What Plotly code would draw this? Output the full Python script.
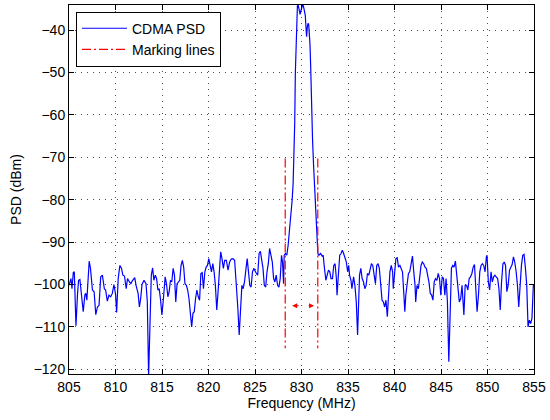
import plotly.graph_objects as go

freq_mhz = [
    805.00, 805.11, 805.21, 805.32, 805.46, 805.57, 805.75, 805.92, 806.03, 806.17,
    806.35, 806.53, 806.71, 806.81, 806.92, 807.06, 807.17, 807.31, 807.52, 807.70,
    807.88, 808.06, 808.23, 808.41, 808.59, 808.80, 808.94, 809.12, 809.30, 809.48,
    809.66, 809.83, 810.01, 810.12, 810.29, 810.47, 810.65, 810.79, 810.97, 811.15,
    811.29, 811.50, 811.65, 811.79, 811.97, 812.07, 812.21, 812.43, 812.57, 812.71,
    812.85, 813.07, 813.28, 813.42, 813.56, 813.70, 813.85, 813.99, 814.13, 814.28,
    814.42, 814.56, 814.70, 814.85, 814.99, 815.17, 815.34, 815.48, 815.63, 815.77,
    815.91, 816.05, 816.20, 816.34, 816.48, 816.62, 816.76, 816.91, 817.05, 817.19,
    817.33, 817.47, 817.62, 817.76, 817.90, 818.04, 818.19, 818.33, 818.47, 818.61,
    818.75, 818.90, 819.04, 819.18, 819.32, 819.46, 819.61, 819.75, 819.89, 820.03,
    820.18, 820.32, 820.46, 820.60, 820.74, 820.89, 821.03, 821.17, 821.31, 821.45,
    821.60, 821.74, 821.92, 822.10, 822.27, 822.45, 822.63, 822.81, 822.98, 823.16,
    823.30, 823.45, 823.59, 823.73, 823.87, 824.05, 824.16, 824.30, 824.44, 824.58,
    824.73, 824.87, 825.01, 825.15, 825.29, 825.44, 825.58, 825.72, 825.86, 826.00,
    826.15, 826.29, 826.43, 826.57, 826.72, 826.86, 827.00, 827.14, 827.28, 827.43,
    827.57, 827.71, 827.85, 827.96, 828.07, 828.14, 828.28, 828.42, 828.56, 828.71,
    828.85, 828.99, 829.10, 829.20, 829.27, 829.34, 829.45, 829.56, 829.65, 829.74,
    829.85, 829.95, 830.06, 830.15, 830.27, 830.41, 830.50, 830.55, 830.62, 830.70,
    830.77, 830.85, 830.91, 830.98, 831.05, 831.12, 831.19, 831.30, 831.41, 831.50,
    831.58, 831.68, 831.76, 831.87, 832.05, 832.22, 832.33, 832.47, 832.62, 832.76,
    832.90, 833.04, 833.18, 833.33, 833.47, 833.61, 833.75, 833.82, 833.97, 834.11,
    834.25, 834.39, 834.53, 834.68, 834.82, 834.96, 835.07, 835.17, 835.32, 835.42,
    835.60, 835.74, 835.89, 836.03, 836.13, 836.24, 836.38, 836.52, 836.67, 836.81,
    836.95, 837.09, 837.24, 837.38, 837.52, 837.66, 837.80, 837.95, 838.09, 838.23,
    838.37, 838.51, 838.66, 838.80, 838.94, 839.08, 839.23, 839.37, 839.51, 839.65,
    839.80, 839.87, 840.01, 840.15, 840.29, 840.43, 840.58, 840.72, 840.86, 841.00,
    841.11, 841.22, 841.36, 841.50, 841.64, 841.79, 841.93, 842.07, 842.21, 842.28,
    842.42, 842.57, 842.71, 842.85, 842.99, 843.14, 843.28, 843.42, 843.56, 843.70,
    843.85, 843.99, 844.13, 844.27, 844.41, 844.56, 844.70, 844.84, 844.98, 845.13,
    845.27, 845.41, 845.55, 845.69, 845.84, 845.98, 846.12, 846.26, 846.40, 846.55,
    846.69, 846.83, 846.97, 847.12, 847.26, 847.46, 847.60, 847.75, 847.89, 848.03,
    848.17, 848.32, 848.46, 848.60, 848.74, 848.88, 849.03, 849.17, 849.31, 849.45,
    849.59, 849.74, 849.88, 849.95, 850.09, 850.23, 850.38, 850.52, 850.66, 850.80,
    850.94, 851.09, 851.23, 851.37, 851.51, 851.66, 851.80, 851.94, 852.08, 852.22,
    852.37, 852.51, 852.65, 852.79, 852.93, 853.08, 853.22, 853.36, 853.50, 853.65,
    853.79, 853.93, 854.07, 854.22, 854.36, 854.50, 854.64, 854.78, 854.93, 855.00,
]

psd_dbm = [
    -100.2, -99.0, -98.6, -101.0, -97.2, -97.0, -109.7, -102.1, -99.0, -98.8,
    -102.1, -106.4, -102.4, -102.1, -103.7, -97.0, -94.5, -96.2, -101.3, -101.7,
    -107.1, -105.3, -104.9, -98.2, -97.8, -101.0, -101.3, -103.9, -102.5, -102.9,
    -102.1, -100.0, -102.4, -106.6, -98.6, -95.5, -96.2, -97.8, -98.0, -101.0,
    -98.6, -99.4, -99.8, -99.2, -98.6, -98.4, -100.2, -102.1, -105.3, -103.3,
    -100.0, -99.0, -99.8, -104.0, -121.5, -108.8, -97.8, -96.1, -99.0, -97.8,
    -98.6, -101.3, -101.0, -103.7, -107.2, -102.9, -98.2, -99.8, -102.9, -101.7,
    -99.0, -99.4, -96.2, -97.8, -104.1, -99.8, -99.4, -99.0, -95.5, -94.3,
    -95.9, -99.8, -100.2, -101.3, -103.3, -106.4, -110.0, -106.8, -106.4, -103.3,
    -101.3, -102.9, -103.7, -97.4, -97.2, -101.0, -97.0, -95.9, -95.5, -93.9,
    -95.5, -97.0, -95.1, -97.0, -100.2, -106.0, -101.7, -96.2, -92.3, -93.9,
    -96.2, -94.3, -94.3, -96.6, -94.7, -94.0, -93.9, -94.3, -99.4, -105.7,
    -111.9, -104.9, -100.2, -101.0, -99.4, -95.9, -93.9, -97.0, -100.2, -100.6,
    -97.0, -96.2, -97.0, -97.4, -97.8, -92.7, -92.2, -94.7, -96.2, -100.2,
    -100.6, -97.0, -95.1, -91.5, -93.1, -94.7, -98.6, -99.4, -97.8, -100.2,
    -100.6, -98.6, -93.1, -94.7, -99.8, -93.1, -92.7, -93.1, -90.8, -87.5,
    -83.0, -80.2, -76.2, -70.0, -62.0, -50.0, -38.0, -34.3, -34.2, -35.2,
    -36.3, -35.3, -34.0, -33.9, -35.0, -36.6, -40.0, -41.6, -39.4, -38.4,
    -38.6, -40.5, -43.3, -48.0, -55.0, -60.0, -66.0, -72.0, -77.8, -82.0,
    -85.6, -89.5, -92.7, -93.1, -92.7, -93.3, -93.1, -96.2, -99.0, -97.8,
    -96.6, -97.0, -98.6, -98.6, -95.5, -95.1, -98.6, -102.5, -97.0, -93.1,
    -92.7, -91.9, -92.7, -93.9, -94.7, -97.0, -95.5, -97.8, -99.0, -101.0,
    -98.2, -100.2, -104.1, -111.9, -104.1, -97.8, -96.2, -98.6, -99.4, -101.0,
    -100.2, -97.4, -97.8, -96.6, -95.1, -95.5, -97.8, -99.8, -95.5, -95.1,
    -96.2, -99.4, -103.7, -104.1, -105.3, -103.7, -107.6, -102.1, -97.0, -95.5,
    -97.0, -101.0, -96.2, -93.9, -93.7, -95.9, -95.5, -96.2, -97.0, -102.1,
    -106.4, -102.4, -99.4, -97.4, -97.0, -95.1, -93.3, -97.0, -100.2, -104.1,
    -100.2, -101.0, -98.6, -95.5, -94.7, -95.1, -95.9, -96.2, -97.8, -99.4,
    -102.1, -102.5, -103.7, -99.4, -98.6, -99.0, -97.4, -98.6, -102.5, -98.2,
    -98.6, -102.5, -98.6, -104.1, -118.2, -108.0, -96.2, -95.5, -95.9, -94.5,
    -97.8, -101.3, -104.1, -103.3, -100.2, -107.2, -100.2, -100.2, -101.3, -98.6,
    -98.2, -97.4, -95.9, -95.3, -100.2, -106.4, -102.5, -97.0, -95.5, -95.1,
    -95.5, -97.0, -93.5, -93.1, -99.4, -101.3, -97.0, -99.4, -98.2, -97.8,
    -98.2, -98.6, -101.0, -106.0, -99.4, -95.1, -94.7, -95.5, -101.7, -100.2,
    -96.6, -95.9, -95.3, -93.5, -94.7, -97.0, -100.2, -105.3, -100.2, -95.5,
    -93.1, -92.9, -95.9, -100.2, -110.0, -108.4, -109.2, -108.0, -100.2, -100.2,
]

marker_freqs = [828.25, 831.75]
marker_psd_range = [-70.3, -115.0]
arrow_psd = -105.0
arrow_left = [829.85, 829.0]
arrow_right = [830.6, 831.35]

x_ticks = [805, 810, 815, 820, 825, 830, 835, 840, 845, 850, 855]
y_ticks = [-120, -110, -100, -90, -80, -70, -60, -50, -40]

FONT = "Liberation Sans, Arial, Helvetica, sans-serif"

fig = go.Figure()
fig.add_trace(go.Scatter(
    x=freq_mhz, y=psd_dbm, mode="lines", name="CDMA PSD",
    line=dict(color="rgb(0,0,255)", width=1.2),
))

mx, my = [], []
for i, f in enumerate(marker_freqs):
    if i:
        mx.append(None); my.append(None)
    mx += [f, f]
    my += marker_psd_range
fig.add_trace(go.Scatter(
    x=mx, y=my, mode="lines", name="Marking lines",
    line=dict(color="rgb(255,0,0)", width=1.2, dash="9px,3px,2px,3px"),
))

for tail, head in (arrow_left, arrow_right):
    fig.add_annotation(
        x=head, y=arrow_psd, ax=tail, ay=arrow_psd,
        xref="x", yref="y", axref="x", ayref="y",
        showarrow=True, arrowhead=2, arrowsize=1, arrowwidth=1,
        arrowcolor="rgb(255,0,0)", text="",
    )

axis_common = dict(
    showline=True, linecolor="black", linewidth=1, mirror="ticks",
    ticks="inside", ticklen=5, tickcolor="black",
    showgrid=True, gridcolor="rgba(0,0,0,0.7)", griddash="1px,5px", gridwidth=1,
    zeroline=False, tickfont=dict(family=FONT, size=14, color="black"),
)

fig.update_layout(
    width=550, height=420,
    margin=dict(l=69, r=12, t=4, b=46),
    paper_bgcolor="white", plot_bgcolor="white",
    font=dict(family=FONT, size=14, color="black"),
    xaxis=dict(range=[805, 855], tickvals=x_ticks,
               title=dict(text="Frequency (MHz)", standoff=4,
                          font=dict(family=FONT, size=14)),
               **axis_common),
    yaxis=dict(range=[-121.1, -34.1], tickvals=y_ticks,
               title=dict(text="PSD (dBm)", standoff=8,
                          font=dict(family=FONT, size=14)),
               **axis_common),
    legend=dict(x=0.015, y=0.982, xanchor="left", yanchor="top",
                bgcolor="white", bordercolor="black", borderwidth=1,
                font=dict(family=FONT, size=14), tracegroupgap=0,
                itemwidth=45),
    showlegend=True,
)

fig.write_html("out.html")
